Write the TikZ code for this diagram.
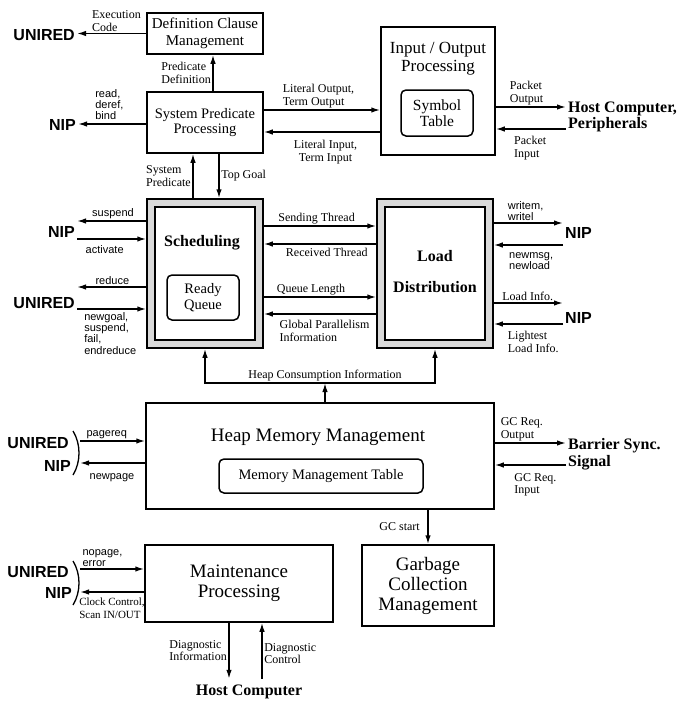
\documentclass[tikz,border=0pt]{standalone}
\usepackage{fontspec}
\setmainfont{Liberation Serif}
\setsansfont{Liberation Sans}
\usetikzlibrary{arrows.meta}

\tikzset{
  blk/.style={draw, line width=1.5pt, align=center, inner sep=0pt, fill=white},
  sub/.style={draw, line width=1.5pt, rounded corners=5pt, align=center, inner sep=0pt},
  frm/.style={draw, line width=1.5pt, fill=black!15},
  arr/.style={-{Latex[length=9pt,width=5.5pt]}, line width=1.5pt},
  lbl/.style={font=\fontsize{12}{12.5}\selectfont, align=left, inner sep=1.5pt},
  sig/.style={font=\sffamily\fontsize{11}{11.3}\selectfont, align=left, inner sep=1.5pt},
  ext/.style={font=\sffamily\bfseries\fontsize{16}{18}\selectfont, inner sep=2pt},
  host/.style={font=\bfseries\fontsize{16}{16.5}\selectfont, align=left, inner sep=2pt},
}

\begin{document}
\begin{tikzpicture}[x=1pt, y=-1pt]
  \useasboundingbox (0,0) rectangle (682,704);

  % processing blocks
  \node[blk, minimum width=116pt, minimum height=41pt, font=\fontsize{15}{17}\selectfont] (dcm) at (205,33.5) {Definition Clause\\Management};
  \node[blk, minimum width=116pt, minimum height=61pt, font=\fontsize{14.5}{15}\selectfont] (spp) at (205,122.5) {System Predicate\\Processing};
  \node[blk, minimum width=114pt, minimum height=128pt] (io) at (438,91) {};
  \node[font=\fontsize{17}{18}\selectfont, align=center] (ioT) at (438,59) {Input / Output\\Processing};
  \node[sub, minimum width=72pt, minimum height=46pt, font=\fontsize{15.5}{16}\selectfont] (sym) at (437,113) {Symbol\\Table};

  \node[frm, minimum width=116pt, minimum height=149pt] (sched) at (205,273.5) {};
  \node[blk, minimum width=100pt, minimum height=133pt] (schedI) at (205,273.5) {};
  \node[font=\bfseries\fontsize{16}{18}\selectfont] (schedT) at (202,243) {Scheduling};
  \node[sub, minimum width=72pt, minimum height=45pt, font=\fontsize{14.5}{16}\selectfont] (rq) at (203,297.5) {Ready\\Queue};

  \node[frm, minimum width=116pt, minimum height=149pt] (load) at (435,273.5) {};
  \node[blk, minimum width=100pt, minimum height=133pt] (loadI) at (435,273.5) {};
  \node[font=\bfseries\fontsize{16}{31}\selectfont, align=center] (loadT) at (435,271.5) {Load\\Distribution};

  \node[blk, minimum width=348pt, minimum height=106pt] (heap) at (320,456) {};
  \node[font=\fontsize{19}{21}\selectfont] (heapT) at (318,437) {Heap Memory Management};
  \node[sub, minimum width=204pt, minimum height=34pt, font=\fontsize{14.5}{16}\selectfont] (mmt) at (321,476) {Memory Management Table};

  \node[blk, minimum width=132pt, minimum height=81pt, font=\fontsize{19}{20}\selectfont] (gc) at (428,585.5) {Garbage\\Collection\\Management};
  \node[blk, minimum width=188pt, minimum height=77pt, font=\fontsize{19}{20.5}\selectfont] (mp) at (239,583.5) {Maintenance\\Processing};

  % outside units
  \node[ext, anchor=east] (urA) at (77,35) {UNIRED};
  \node[ext, anchor=east] (nipA) at (78,125) {NIP};
  \node[ext, anchor=east] (nipB) at (77,232) {NIP};
  \node[ext, anchor=east] (urB) at (77,303) {UNIRED};
  \node[ext, anchor=east] (urC) at (71,443) {UNIRED};
  \node[ext, anchor=east] (nipC) at (73,466) {NIP};
  \node[ext, anchor=east] (urD) at (71,572) {UNIRED};
  \node[ext, anchor=east] (nipD) at (74,593) {NIP};
  \node[ext, anchor=west] (nipE) at (563,233) {NIP};
  \node[ext, anchor=west] (nipF) at (563,318) {NIP};
  \node[host, anchor=west] (hostA) at (566,117) {Host Computer,\\Peripherals};
  \node[host, anchor=west] (bar) at (566,454) {Barrier Sync.\\Signal};
  \node[host, inner ysep=6pt] (hostB) at (249,692) {Host Computer};
  \coordinate (parC) at (80,454);
  \coordinate (parD) at (80,582);

  % top part
  \draw[arr] (dcm.west) -- node[lbl, above, pos=0.43] {Execution\\Code} (dcm.west -| urA.east);
  \draw[arr] (spp.north -| 213,0) -- node[lbl, left] {Predicate\\Definition} (dcm.south -| 213,0);
  \draw[arr] (spp.west |- 0,124) -- node[sig, above=2pt, pos=0.54] {read,\\deref,\\bind} (nipA.east |- 0,124);
  \draw[arr] (spp.east |- 0,110) -- node[lbl, above, pos=0.47] {Literal Output,\\Term Output} (io.west |- 0,110);
  \draw[arr] (io.west |- 0,132) -- node[lbl, below=6pt, pos=0.47, align=center] {Literal Input,\\Term Input} (spp.east |- 0,132);
  \draw[arr] (io.east |- 0,107) -- node[lbl, above, pos=0.44] {Packet\\Output} (hostA.west |- 0,107);
  \draw[arr] (hostA.west |- 0,129) -- node[lbl, below=5pt, pos=0.51] {Packet\\Input} (io.east |- 0,129);
  \draw[arr] (sched.north -| 193,0) -- node[lbl, left] {System\\Predicate} (spp.south -| 193,0);
  \draw[arr] (spp.south -| 219,0) -- node[lbl, right] {Top Goal} (sched.north -| 219,0);

  % scheduling
  \draw[arr] (sched.west |- 0,221) -- node[sig, above, pos=0.48] {suspend} (nipB.east |- 0,221);
  \draw[arr] (nipB.east |- 0,239) -- node[sig, below=4pt, pos=0.4] {activate} (sched.west |- 0,239);
  \draw[arr] (sched.west |- 0,287) -- node[sig, above, pos=0.49] {reduce} (urB.east |- 0,287);
  \draw[arr] (urB.east |- 0,309) -- node[sig, below right, pos=0, xshift=5pt, yshift=-1pt] {newgoal,\\suspend,\\fail,\\endreduce} (sched.west |- 0,309);
  \draw[arr] (sched.east |- 0,226) -- node[lbl, above, pos=0.47] {Sending Thread} (load.west |- 0,226);
  \draw[arr] (load.west |- 0,244) -- node[lbl, below=2pt, pos=0.44] {Received Thread} (sched.east |- 0,244);
  \draw[arr] (sched.east |- 0,297) -- node[lbl, above, pos=0.42] {Queue Length} (load.west |- 0,297);
  \draw[arr] (load.west |- 0,314) -- node[lbl, below=4pt, pos=0.46] {Global Parallelism\\Information} (sched.east |- 0,314);

  % load distribution
  \draw[arr] (load.east |- 0,223) -- node[sig, above, pos=0.46] {writem,\\writel} (nipE.west |- 0,223);
  \draw[arr] (nipE.west |- 0,245) -- node[sig, below=5pt, pos=0.46] {newmsg,\\newload} (load.east |- 0,245);
  \draw[arr] (load.east |- 0,303) -- node[lbl, above, pos=0.49] {Load Info.} (nipF.west |- 0,303);
  \draw[arr] (nipF.west |- 0,324) -- node[lbl, below=5pt, pos=0.43] {Lightest\\Load Info.} (load.east |- 0,324);

  % heap
  \coordinate (hc) at (325,383);
  \draw[arr] (heap.north -| hc) -- (hc);
  \draw[arr] (hc) -| (sched.south);
  \draw[arr] (hc) -| (load.south);
  \node[lbl, above] (hcT) at (hc) {Heap Consumption Information};
  \draw[arr] (parC |- 0,441) -- node[sig, above, pos=0.41] {pagereq} (heap.west |- 0,441);
  \draw[arr] (heap.west |- 0,463) -- node[sig, below=8pt, pos=0.51] {newpage} (parC |- 0,463);
  \draw[line width=1.3pt] (73,431) .. controls (81,444) and (81,462) .. (73,475);
  \draw[arr] (heap.east |- 0,443) -- node[lbl, above, pos=0.38] {GC Req.\\Output} (bar.west |- 0,443);
  \draw[arr] (bar.west |- 0,465) -- node[lbl, below=6pt, pos=0.43] {GC Req.\\Input} (heap.east |- 0,465);
  \draw[arr] (heap.south -| gc.north) -- node[lbl, left=6pt] {GC start} (gc.north);

  % maintenance
  \draw[arr] (parD |- 0,569) -- node[sig, above, pos=0.35] {nopage,\\error} (mp.west |- 0,569);
  \draw[arr] (mp.west |- 0,592) -- node[lbl, font=\fontsize{11}{12.5}\selectfont, below right, pos=1, xshift=-3pt, yshift=-4pt] {Clock Control,\\Scan IN/OUT} (parD |- 0,592);
  \draw[line width=1.3pt] (73,561) .. controls (81,574) and (81,592) .. (73,605);
  \draw[arr] (mp.south -| 229,0) -- node[lbl, left] {Diagnostic\\Information} (hostB.north -| 229,0);
  \draw[arr] (hostB.north -| 262,0) -- node[lbl, right, yshift=-3pt] {Diagnostic\\Control} (mp.south -| 262,0);
\end{tikzpicture}
\end{document}
